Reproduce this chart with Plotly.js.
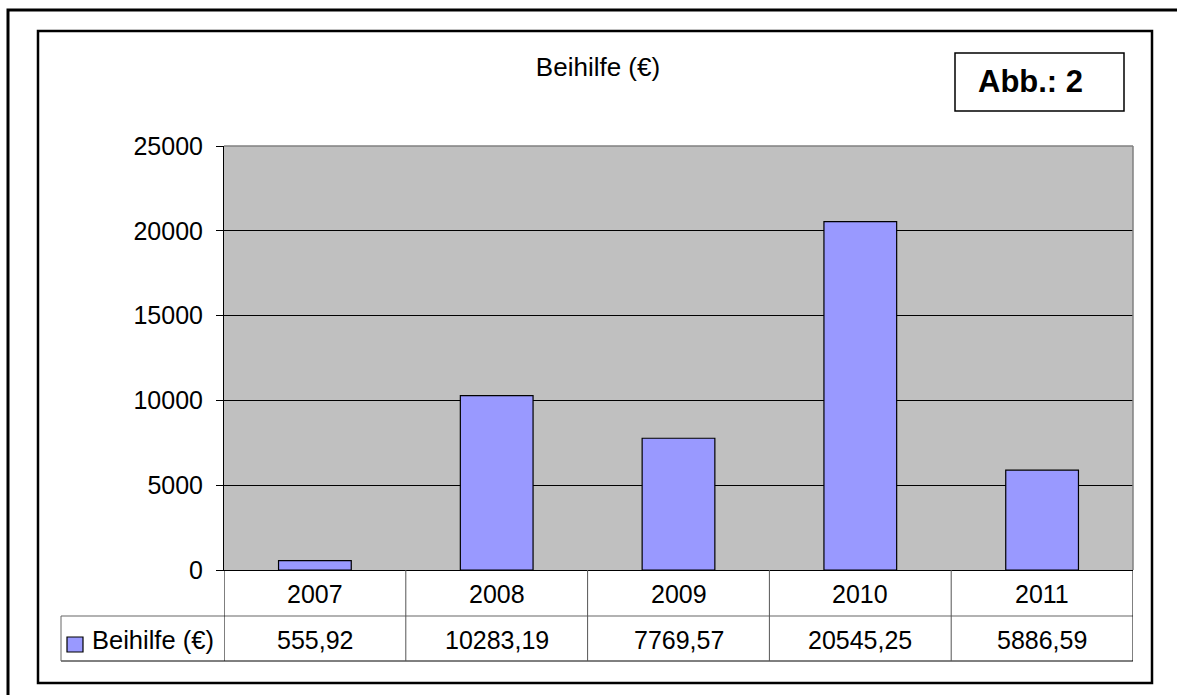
<!DOCTYPE html>
<html><head><meta charset="utf-8">
<script src="https://cdn.plot.ly/plotly-3.0.1.min.js"></script>
<style>html,body{margin:0;padding:0;background:#fff}#c{width:1177px;height:695px}</style>
</head><body><div id="c"></div>
<script>
const years = ['2007','2008','2009','2010','2011'];
const beihilfe = [555.92, 10283.19, 7769.57, 20545.25, 5886.59];
const seriesName = 'Beihilfe (€)';
const chartTitle = 'Beihilfe (€)';
const figLabel = 'Abb.: 2';
const yTicks = [0, 5000, 10000, 15000, 20000, 25000];

const W = 1177, H = 695;
const px = v => v / W;
const py = v => 1 - v / H;
const plotL = 224, plotR = 1133, plotT = 146, plotB = 570;
const row1B = 616, row2B = 661, tableL = 61;
const font = 'Liberation Sans, Arial, sans-serif';

const fmt = v => v.toFixed(2).replace('.', ',');

const shapes = [];
// outer frame
shapes.push({type:'rect', xref:'paper', yref:'paper', x0:px(8), x1:px(1200), y0:py(10), y1:py(720), line:{color:'#000', width:3}});
// inner frame
shapes.push({type:'rect', xref:'paper', yref:'paper', x0:px(38), x1:px(1152), y0:py(31), y1:py(683), line:{color:'#000', width:2.5}});
// plot area top/right gray border
shapes.push({type:'line', xref:'paper', yref:'paper', x0:px(plotL), x1:px(plotR), y0:py(plotT), y1:py(plotT), line:{color:'#808080', width:1.5}});
shapes.push({type:'line', xref:'paper', yref:'paper', x0:px(plotR), x1:px(plotR), y0:py(plotT), y1:py(plotB), line:{color:'#808080', width:1.5}});
// data table lines
shapes.push({type:'line', xref:'paper', yref:'paper', x0:px(tableL), x1:px(plotR), y0:py(row1B), y1:py(row1B), line:{color:'#666', width:1.2}});
shapes.push({type:'line', xref:'paper', yref:'paper', x0:px(tableL), x1:px(plotR), y0:py(row2B), y1:py(row2B), line:{color:'#000', width:1}});
shapes.push({type:'line', xref:'paper', yref:'paper', x0:px(tableL), x1:px(tableL), y0:py(row1B), y1:py(row2B), line:{color:'#666', width:1}});
// column separators via category boundaries
for (let i = 0; i <= years.length; i++) {
  const edge = i - 0.5;
  const isOuter = (i === 0 || i === years.length);
  shapes.push({type:'line', xref:'x', yref:'paper', x0:edge, x1:edge, y0:py(plotB), y1:py(row2B), line:{color: isOuter ? '#000' : '#555', width:1}});
}
// legend key
shapes.push({type:'rect', xref:'paper', yref:'paper', x0:px(67), x1:px(83), y0:py(637), y1:py(652), fillcolor:'#9999FF', line:{color:'#000', width:1.2}});
// Abb box
shapes.push({type:'rect', xref:'paper', yref:'paper', x0:px(955), x1:px(1124), y0:py(53), y1:py(111), fillcolor:'#fff', line:{color:'#000', width:1.5}});

const annotations = [];
years.forEach((y, i) => {
  annotations.push({xref:'x', yref:'paper', x:i, y:py((plotB + row1B) / 2 + 1), text:y, showarrow:false, font:{family:font, size:25, color:'#000'}, xanchor:'center', yanchor:'middle'});
  annotations.push({xref:'x', yref:'paper', x:i, y:py((row1B + row2B) / 2 + 1), text:fmt(beihilfe[i]), showarrow:false, font:{family:font, size:25, color:'#000'}, xanchor:'center', yanchor:'middle'});
});
annotations.push({xref:'paper', yref:'paper', x:px(90), y:py((row1B + row2B) / 2 + 1), text:seriesName, showarrow:false, font:{family:font, size:25.5, color:'#000'}, xanchor:'left', yanchor:'middle'});
annotations.push({xref:'paper', yref:'paper', x:px(1030), y:py(82), text:'<b>' + figLabel + '</b>', showarrow:false, font:{family:font, size:31, color:'#000'}, xanchor:'center', yanchor:'middle'});

const data = [{
  type:'bar', x:years, y:beihilfe, name:seriesName,
  marker:{color:'#9999FF', line:{color:'#000', width:1.2}},
  hoverinfo:'skip'
}];

const layout = {
  width:W, height:H,
  margin:{l:0, r:0, t:0, b:0},
  paper_bgcolor:'#fff', plot_bgcolor:'#C0C0C0',
  showlegend:false,
  bargap:0.6,
  title:{text:chartTitle, x:px(598), xref:'paper', y:py(67), yref:'paper', xanchor:'center', yanchor:'middle', font:{family:font, size:26, color:'#000'}},
  xaxis:{domain:[px(plotL), px(plotR)], type:'category', range:[-0.5, years.length - 0.5], showticklabels:false, ticks:'', showgrid:false, zeroline:false, showline:true, linecolor:'#000', linewidth:1, fixedrange:true},
  yaxis:{domain:[py(plotB), py(plotT)], range:[0, 25000], tickvals:yTicks, ticktext:yTicks.map(String), ticks:'outside', ticklen:7, tickcolor:'#000', tickwidth:1, ticklabelstandoff:8, showgrid:true, gridcolor:'#000', gridwidth:1, zeroline:false, showline:true, linecolor:'#000', linewidth:1, tickfont:{family:font, size:25, color:'#000'}, fixedrange:true},
  shapes:shapes,
  annotations:annotations
};

Plotly.newPlot('c', data, layout, {displayModeBar:false, staticPlot:true});
</script>
</body></html>
